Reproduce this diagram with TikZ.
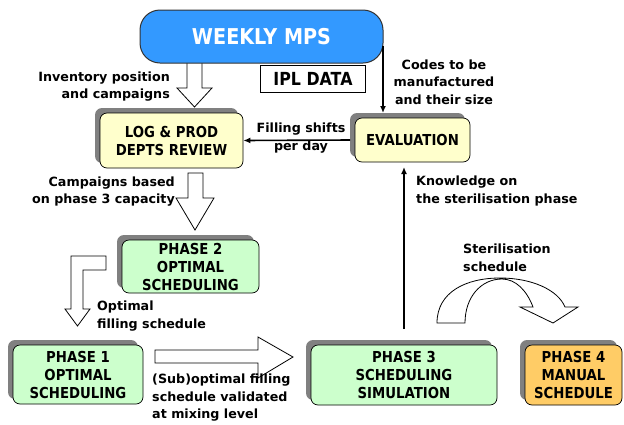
\documentclass[tikz,border=0pt]{standalone}
\usepackage{fontspec}
\setmainfont{DejaVu Sans}
\newfontfamily\narrowfont{DejaVu Sans}[FakeStretch=0.88]
\usetikzlibrary{shadows,arrows.meta}
\definecolor{mpsblue}{HTML}{3399FF}
\definecolor{boxyellow}{HTML}{FFFFCC}
\definecolor{boxgreen}{HTML}{CCFFCC}
\definecolor{boxorange}{HTML}{FFCC66}
\definecolor{shadowgray}{HTML}{808080}
\tikzset{
  box/.style={draw=black, line width=0.7pt, rounded corners=7pt, align=center, inner sep=0pt,
    font=\narrowfont\fontsize{15.1}{18}\selectfont\bfseries,
    general shadow={shadow xshift=-5pt, shadow yshift=5pt, fill=shadowgray}},
  lbl/.style={inner sep=0pt, font=\fontsize{12.7}{17.5}\selectfont\bfseries},
  hollow/.style={draw=black, fill=white, line width=0.8pt, line join=miter},
  conn/.style={draw=black, line width=1.6pt, -{Latex[length=7pt,width=6pt]}}
}
\begin{document}
\begin{tikzpicture}[x=1pt,y=-1pt]
\useasboundingbox (0,0) rectangle (624,424);
\fill[white] (0,0) rectangle (624,424);

% hollow arrow MPS -> LOG
\path[hollow] (187,60) -- (187,88) -- (177,88) -- (194.5,107) -- (212,88) -- (202,88) -- (202,60) -- cycle;

% top pill
\node[draw=black!80, line width=1pt, fill=mpsblue, rounded corners=20pt, minimum width=243pt, minimum height=53pt,
  text=white, font=\narrowfont\fontsize{21.8}{24}\selectfont\bfseries, inner sep=0pt] (mps) at (261.5,36.5) {WEEKLY MPS};

\node[draw=black, line width=0.7pt, fill=white, minimum width=105pt, minimum height=27pt, inner sep=0pt,
  font=\narrowfont\fontsize{18}{20}\selectfont\bfseries] (ipl) at (313,79) {IPL DATA};

% boxes
\node[box, fill=boxyellow, minimum width=143pt, minimum height=55pt] (log) at (171.5,140.5) {LOG \& PROD\\DEPTS REVIEW};
\node[box, fill=boxyellow, minimum width=115pt, minimum height=44pt] (eval) at (412.5,140) {EVALUATION};
\node[box, fill=boxgreen, minimum width=137pt, minimum height=53pt] (ph2) at (190.5,266.5) {PHASE 2\\OPTIMAL\\SCHEDULING};
\node[box, fill=boxgreen, minimum width=130pt, minimum height=59pt] (ph1) at (78,374.5) {PHASE 1\\OPTIMAL\\SCHEDULING};
\node[box, fill=boxgreen, minimum width=186pt, minimum height=60pt] (ph3) at (404,375) {PHASE 3\\SCHEDULING\\SIMULATION};
\node[box, fill=boxorange, minimum width=97pt, minimum height=60pt] (ph4) at (573.5,375) {PHASE 4\\MANUAL\\SCHEDULE};

% black connectors
\coordinate (mpsout) at (383,46);
\coordinate (evalin) at (383,113);
\draw[conn] (mpsout) -- (evalin);
\coordinate (evalleft) at (350,140);
\draw[conn] (evalleft) -- (log.east);
\coordinate (ph3out) at (404,329);
\coordinate (evalbot) at (404,167);
\draw[conn] (ph3out) -- (evalbot);

% hollow arrow LOG -> PH2
\path[hollow] (188,173) -- (188,198) -- (176,198) -- (195,230) -- (214,198) -- (203,198) -- (203,173) -- cycle;
% bent hollow arrow PH2 -> PH1
\path[hollow] (106,256) -- (71,256) -- (71,309) -- (65,309) -- (77.5,326) -- (90,309) -- (83,309) -- (83,270) -- (106,270) -- cycle;
% hollow arrow PH1 -> PH3
\path[hollow] (155,350) -- (258,350) -- (258,337) -- (293,357) -- (258,378) -- (258,363) -- (155,363) -- cycle;
% curved hollow arrow PH3 -> PH4
\path[hollow] (437,323) .. controls (437,292) and (466,278) .. (500,278)
  .. controls (532,278) and (558,290) .. (565,307) -- (578,307) -- (553,323) -- (520,307) -- (533,307)
  .. controls (527,291) and (516,279) .. (502,279)
  .. controls (481,279) and (465,297) .. (465,323) -- cycle;

% labels
\node[lbl, align=right, anchor=east] (l1) at (170,86.5) {Inventory position\\and campaigns};
\node[lbl, align=center] (l2) at (444,82) {Codes to be\\manufactured\\and their size};
\node[lbl, align=center] (l3) at (301,138) {Filling shifts\\per day};
\node[lbl, align=right, anchor=east] (l4) at (175,191.5) {Campaigns based\\on phase 3 capacity};
\node[lbl, align=left, anchor=west] (l5) at (416,191) {Knowledge on\\the sterilisation phase};
\node[lbl, align=left, anchor=west] (l6) at (463,258) {Sterilisation\\schedule};
\node[lbl, align=left, anchor=west] (l7) at (97,316) {Optimal\\filling schedule};
\node[lbl, align=left, anchor=west] (l8) at (152,398) {(Sub)optimal filling\\schedule validated\\at mixing level};
\end{tikzpicture}
\end{document}
